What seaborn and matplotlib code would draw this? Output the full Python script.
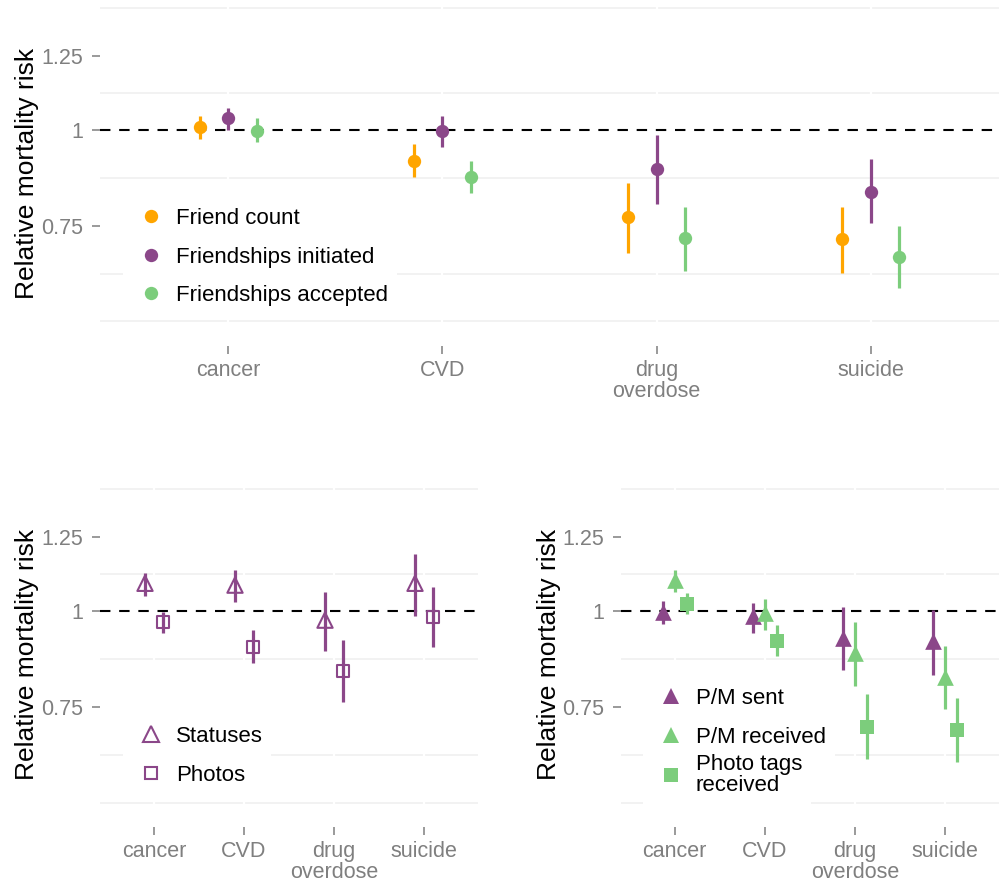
import pandas as pd
import matplotlib
matplotlib.use('Agg')
import matplotlib.pyplot as plt
import seaborn as sns
from matplotlib.lines import Line2D
from matplotlib.ticker import NullLocator

# ---------------------------------------------
# Data: relative mortality risk (estimate, lower, upper)
# ---------------------------------------------
causes = ['cancer', 'CVD', 'drug\noverdose', 'suicide']

# top panel: friendships
friend_count = [1.008, 0.912, 0.769, 0.720]
friend_count_lo = [0.973, 0.869, 0.692, 0.651]
friend_count_hi = [1.044, 0.958, 0.853, 0.793]

initiated = [1.036, 0.997, 0.889, 0.831]
initiated_lo = [1.000, 0.949, 0.801, 0.757]
initiated_hi = [1.070, 1.043, 0.985, 0.916]

accepted = [0.998, 0.869, 0.722, 0.683]
accepted_lo = [0.964, 0.828, 0.654, 0.623]
accepted_hi = [1.036, 0.910, 0.794, 0.750]

# bottom left: posting
statuses = [1.087, 1.081, 0.973, 1.087]
statuses_lo = [1.047, 1.028, 0.887, 0.986]
statuses_hi = [1.120, 1.131, 1.058, 1.186]

photos = [0.967, 0.898, 0.835, 0.983]
photos_lo = [0.935, 0.856, 0.760, 0.898]
photos_hi = [0.998, 0.944, 0.917, 1.074]

# bottom right: messages and tags
pm_sent = [0.998, 0.986, 0.923, 0.915]
pm_sent_lo = [0.962, 0.935, 0.838, 0.825]
pm_sent_hi = [1.030, 1.026, 1.013, 1.003]

pm_received = [1.098, 0.993, 0.882, 0.819]
pm_received_lo = [1.058, 0.944, 0.799, 0.744]
pm_received_hi = [1.133, 1.036, 0.967, 0.901]

tags = [1.021, 0.914, 0.706, 0.699]
tags_lo = [0.990, 0.874, 0.642, 0.636]
tags_hi = [1.056, 0.959, 0.779, 0.771]

ORANGE = '#FFA500'
PURPLE = '#8B4789'
GREEN = '#7CCD7C'
GREY = '#7F7F7F'

sns.set_theme(style='white')
plt.rcParams['font.family'] = ['Liberation Sans', 'DejaVu Sans']

# light minor grid (ggplot style, midpoints on the log scale)
minor_grid = [0.5625, 0.6495, 0.866, 1.118, 1.443]


def make_table(series):
    n = len(series)
    rows = []
    for j, (label, est, lo, hi) in enumerate(series):
        shift = (j - (n - 1) / 2) * 0.4 / n
        for i, cause in enumerate(causes):
            rows.append(dict(series=label, cause=cause, x=i + 1 + shift,
                             rr=est[i], lo=lo[i], hi=hi[i]))
    return pd.DataFrame(rows)


def draw_panel(ax, df, styles, label_x):
    ax.set_yscale('log')
    for v in minor_grid:
        ax.axhline(v, color='#EFEFEF', lw=1.1, zorder=0)
    for k in range(1, 5):
        ax.axvline(k, color='white', lw=1.6, zorder=0.5)
    ax.axhline(1, color='black', lw=1.5, ls=(0, (5, 4.2)), zorder=1)

    for label, st in styles.items():
        sub = df[df['series'] == label]
        ax.vlines(sub['x'], sub['lo'], sub['hi'], color=st['color'], lw=2.3, zorder=2)
        if st['filled']:
            sns.scatterplot(data=sub, x='x', y='rr', ax=ax, color=st['color'],
                            marker=st['marker'], s=st['ms'] ** 2, linewidth=0,
                            zorder=3, legend=False)
        else:
            sns.scatterplot(data=sub, x='x', y='rr', ax=ax, color=st['color'],
                            marker=st['marker'], s=st['ms'] ** 2, facecolor='none',
                            edgecolor=st['color'], linewidth=1.5, zorder=3, legend=False)

    ax.set_xlim(0.4, 4.6)
    ax.set_ylim(0.523, 1.47)
    ax.set_xticks([1, 2, 3, 4])
    ax.set_xticklabels(causes, linespacing=1.0)
    ax.set_yticks([0.75, 1, 1.25])
    ax.set_yticklabels(['0.75', '1', '1.25'])
    ax.yaxis.set_minor_locator(NullLocator())
    ax.tick_params(bottom=True, left=True, colors=GREY, length=6, width=1.1,
                   labelsize=15.5)
    ax.tick_params(axis='x', pad=4)
    ax.tick_params(axis='y', pad=6)
    ax.set_xlabel('')
    ax.set_ylabel('Relative mortality risk', fontsize=19, color='black')
    ax.yaxis.set_label_coords(label_x, 0.5)
    sns.despine(ax=ax, left=True, bottom=True)


def add_legend(fig, ax, styles, keys, left_px, center_px):
    handles = []
    for label in keys:
        st = styles[label]
        handles.append(Line2D([], [], ls='none', marker=st['marker'], ms=st['ms'],
                              color=st['color'],
                              mfc=st['color'] if st['filled'] else 'none',
                              mew=0 if st['filled'] else 1.5))
    leg = ax.legend(handles, keys, loc='center left',
                    bbox_to_anchor=(left_px / 999, 1 - center_px / 886),
                    bbox_transform=fig.transFigure, frameon=True, fancybox=False,
                    facecolor='white', edgecolor='none', framealpha=1, fontsize=16,
                    handlelength=1.7, handletextpad=0.27, borderpad=0.4,
                    labelspacing=0.8, borderaxespad=0, labelcolor='black')
    for t in leg.get_texts():
        t.set_linespacing(1.0)
    ax.add_artist(leg)
    return leg


top_styles = {
    'Friend count': dict(color=ORANGE, marker='o', ms=9.6, filled=True),
    'Friendships initiated': dict(color=PURPLE, marker='o', ms=9.6, filled=True),
    'Friendships accepted': dict(color=GREEN, marker='o', ms=9.6, filled=True),
}
left_styles = {
    'Statuses': dict(color=PURPLE, marker='^', ms=11.0, filled=False),
    'Photos': dict(color=PURPLE, marker='s', ms=9.0, filled=False),
}
right_styles = {
    'P/M sent': dict(color=PURPLE, marker='^', ms=12.0, filled=True),
    'P/M received': dict(color=GREEN, marker='^', ms=12.0, filled=True),
    'Photo tags\nreceived': dict(color=GREEN, marker='s', ms=9.6, filled=True),
}

top_df = make_table([('Friend count', friend_count, friend_count_lo, friend_count_hi),
                     ('Friendships initiated', initiated, initiated_lo, initiated_hi),
                     ('Friendships accepted', accepted, accepted_lo, accepted_hi)])
left_df = make_table([('Statuses', statuses, statuses_lo, statuses_hi),
                      ('Photos', photos, photos_lo, photos_hi)])
right_df = make_table([('P/M sent', pm_sent, pm_sent_lo, pm_sent_hi),
                       ('P/M received', pm_received, pm_received_lo, pm_received_hi),
                       ('Photo tags\nreceived', tags, tags_lo, tags_hi)])

fig = plt.figure(figsize=(9.99, 8.86), dpi=100)
ax_top = fig.add_axes([0.1001, 0.6098, 0.8999, 0.3881])
ax_bl = fig.add_axes([0.1001, 0.0669, 0.3784, 0.3881])
ax_br = fig.add_axes([0.6213, 0.0669, 0.3787, 0.3881])

draw_panel(ax_top, top_df, top_styles, -0.0683)
draw_panel(ax_bl, left_df, left_styles, -0.1624)
draw_panel(ax_br, right_df, right_styles, -0.159)

add_legend(fig, ax_top, top_styles, list(top_styles), 123, 257)
add_legend(fig, ax_bl, left_styles, list(left_styles), 123, 756)
right_keys = list(right_styles)
add_legend(fig, ax_br, right_styles, right_keys[:2], 643, 718)
add_legend(fig, ax_br, right_styles, right_keys[2:], 643, 775)

fig.savefig('out.png', dpi=100)
